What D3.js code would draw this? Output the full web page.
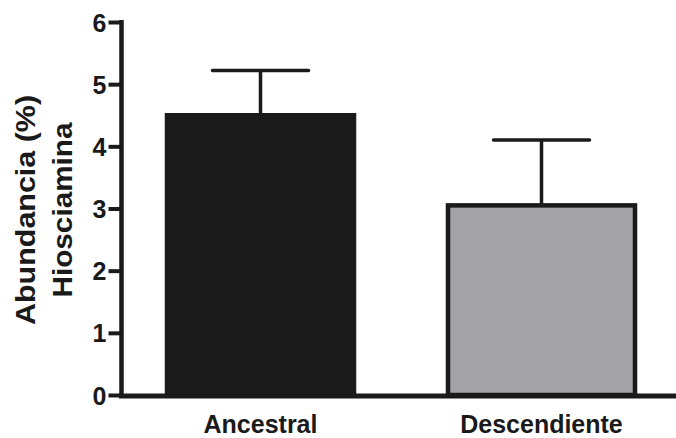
<!DOCTYPE html>
<html>
<head>
<meta charset="utf-8">
<script src="https://cdn.jsdelivr.net/npm/d3@7"></script>
<style>
  html, body { margin: 0; padding: 0; background: #fff; }
  svg { display: block; }
  text { font-family: "Liberation Sans", Arial, Helvetica, sans-serif; font-weight: bold; fill: #1a1a1a; }
</style>
</head>
<body>
<script>
// Hiosciamina abundance by group: mean and error (upper bar)
const categories = ["Ancestral", "Descendiente"];
const means = [4.5, 3.05];
const errors = [0.72, 1.05];
const fills = ["#1a1a1a", "#a4a4a8"];
const yTicks = [0, 1, 2, 3, 4, 5, 6];
const yTitleLines = ["Abundancia (%)", "Hiosciamina"];

const W = 676, H = 438;
const ink = "#1a1a1a";

const svg = d3.select("body").append("svg")
  .attr("width", W).attr("height", H);

const y = d3.scaleLinear().domain([0, 6]).range([395, 22]);
const x = d3.scaleBand().domain(categories)
  .range([121, 681]).paddingInner(0.3345).paddingOuter(0.1637);

// Bars
const barStroke = 4.5;
svg.append("g").selectAll("rect")
  .data(categories)
  .join("rect")
  .attr("x", d => x(d))
  .attr("width", x.bandwidth())
  .attr("y", (d, i) => y(means[i]))
  .attr("height", (d, i) => y(0) - y(means[i]))
  .attr("fill", (d, i) => fills[i])
  .attr("stroke", ink)
  .attr("stroke-width", barStroke);

// Error bars (upper only)
const capHalf = 48;
const eb = svg.append("g").attr("stroke", ink).attr("stroke-width", 3.5);
categories.forEach((c, i) => {
  const cx = x(c) + x.bandwidth() / 2;
  eb.append("line")
    .attr("x1", cx).attr("x2", cx)
    .attr("y1", y(means[i])).attr("y2", y(means[i] + errors[i]));
  eb.append("line")
    .attr("x1", cx - capHalf).attr("x2", cx + capHalf)
    .attr("y1", y(means[i] + errors[i])).attr("y2", y(means[i] + errors[i]))
    .attr("stroke-linecap", "round");
});

// Y axis
const yAxis = svg.append("g")
  .attr("transform", "translate(121.5,0)")
  .call(d3.axisLeft(y).tickValues(yTicks).tickFormat(d3.format("d"))
    .tickSize(13).tickPadding(2).tickSizeOuter(0));
yAxis.select(".domain").attr("stroke", ink).attr("stroke-width", 4.5)
  .attr("d", `M0,${y(6) - 2}V${y(0) + 3}`);
yAxis.selectAll(".tick line").attr("stroke", ink).attr("stroke-width", 4);
yAxis.selectAll(".tick text")
  .style("font-size", "25px").style("font-weight", "bold")
  .attr("fill", ink).attr("dy", "0.36em");

// X axis
const xAxis = svg.append("g")
  .attr("transform", `translate(0,${y(0) + 1})`)
  .call(d3.axisBottom(x).tickSize(0).tickPadding(0));
xAxis.select(".domain").attr("stroke", ink).attr("stroke-width", 5)
  .attr("d", `M119,0H${W}`);
xAxis.selectAll(".tick text")
  .style("font-size", "25px").style("font-weight", "bold")
  .attr("fill", ink).attr("y", 37).attr("dy", 0);

// Y title, two rotated lines
const titleCenter = 210;
const tg = svg.append("g");
tg.append("text")
  .attr("transform", `translate(35,${titleCenter}) rotate(-90)`)
  .attr("text-anchor", "middle")
  .attr("textLength", 230).attr("lengthAdjust", "spacingAndGlyphs")
  .style("font-size", "28px")
  .text(yTitleLines[0]);
tg.append("text")
  .attr("transform", `translate(72,${titleCenter}) rotate(-90)`)
  .attr("text-anchor", "middle")
  .attr("textLength", 175).attr("lengthAdjust", "spacingAndGlyphs")
  .style("font-size", "28px")
  .text(yTitleLines[1]);
</script>
</body>
</html>
